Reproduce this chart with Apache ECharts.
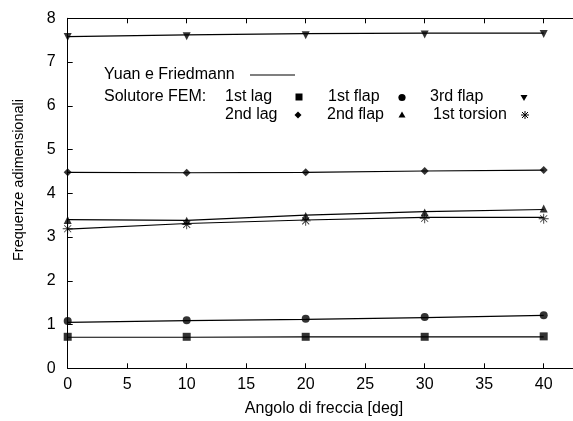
<!DOCTYPE html>
<html><head><meta charset="utf-8">
<script src="https://cdn.jsdelivr.net/npm/echarts@6/dist/echarts.min.js"></script>
<style>html,body{margin:0;padding:0;background:#fff}#c{width:573px;height:421px}</style>
</head><body><div id="c"></div>
<script>
// ---- data ----
const angles = [0, 10, 20, 30, 40];
const xTitle = 'Angolo di freccia [deg]';
const yTitle = 'Frequenze adimensionali';
const lineName = 'Yuan e Friedmann';
// Yuan e Friedmann (lines)
const yf1stLag     = [0.71, 0.71, 0.72, 0.72, 0.72];
const yf1stFlap    = [1.05, 1.09, 1.12, 1.16, 1.21];
const yf2ndFlap    = [3.40, 3.38, 3.50, 3.58, 3.63];
const yf1stTorsion = [3.18, 3.31, 3.39, 3.45, 3.45];
const yf2ndLag     = [4.48, 4.47, 4.48, 4.51, 4.53];
const yf3rdFlap    = [7.58, 7.62, 7.65, 7.66, 7.66];
// Solutore FEM (markers)
const fem1stLag     = [0.72, 0.72, 0.72, 0.72, 0.73];
const fem1stFlap    = [1.08, 1.10, 1.13, 1.17, 1.21];
const fem2ndFlap    = [3.39, 3.37, 3.48, 3.56, 3.65];
const fem1stTorsion = [3.19, 3.29, 3.37, 3.43, 3.42];
const fem2ndLag     = [4.48, 4.47, 4.48, 4.51, 4.53];
const fem3rdFlap    = [7.57, 7.59, 7.61, 7.63, 7.64];

const STAR = 'path://M-1,-0.09L1,-0.09L1,0.09L-1,0.09Z M-0.09,-1L0.09,-1L0.09,1L-0.09,1Z M-0.643,-0.757L0.757,0.643L0.643,0.757L-0.757,-0.643Z M-0.757,0.643L0.643,-0.757L0.757,-0.643L-0.643,0.757Z';

const pairs = v => angles.map((a, i) => [a, v[i]]);
const FONT = 'Liberation Sans, Arial, Helvetica, sans-serif';
const FS = 16;

function lineSeries(v) {
  return { name: lineName, type: 'line', data: pairs(v), symbol: 'none',
    lineStyle: { color: '#000', width: 1.2 }, itemStyle: { color: '#000' }, z: 2, animation: false };
}
function femSeries(name, v, symbol, size, rotate) {
  return { name, type: 'scatter', data: pairs(v), symbol, symbolSize: size, symbolRotate: rotate || 0,
    itemStyle: { color: '#000' }, z: 3, animation: false };
}

// ---- legend (drawn as graphics) ----
const g = [];
function txt(text, x, y) {
  g.push({ type: 'text', style: { text, x, y, font: FS + 'px ' + FONT, fill: '#000',
    textAlign: 'left', textVerticalAlign: 'middle', align: 'left', verticalAlign: 'middle' } });
}
txt(lineName, 104, 75);
g.push({ type: 'line', shape: { x1: 250, y1: 75, x2: 295, y2: 75 }, style: { stroke: '#000', lineWidth: 1.2 } });
txt('Solutore FEM:', 104, 97);
txt('1st lag', 225, 97);
g.push({ type: 'rect', shape: { x: 295.5, y: 93.5, width: 7, height: 7 }, style: { fill: '#000' } });
txt('1st flap', 328, 97);
g.push({ type: 'circle', shape: { cx: 402, cy: 97.5, r: 3.6 }, style: { fill: '#000' } });
txt('3rd flap', 430, 97);
g.push({ type: 'polygon', shape: { points: [[520.5, 95], [527.5, 95], [524, 101]] }, style: { fill: '#000' } });
txt('2nd lag', 225, 115);
g.push({ type: 'polygon', shape: { points: [[298, 111.5], [301.5, 115], [298, 118.5], [294.5, 115]] }, style: { fill: '#000' } });
txt('2nd flap', 327, 115);
g.push({ type: 'polygon', shape: { points: [[402, 111.5], [405.5, 117.5], [398.5, 117.5]] }, style: { fill: '#000' } });
txt('1st torsion', 433, 115);
[[[521, 115], [529, 115]], [[525, 111], [525, 119]], [[522, 112], [528, 118]], [[522, 118], [528, 112]]].forEach(p => {
  g.push({ type: 'line', shape: { x1: p[0][0], y1: p[0][1], x2: p[1][0], y2: p[1][1] }, style: { stroke: '#000', lineWidth: 1 } });
});
// axis titles
g.push({ type: 'text', style: { text: xTitle, x: 324, y: 409, font: FS + 'px ' + FONT, fill: '#000',
  textAlign: 'center', textVerticalAlign: 'middle', align: 'center', verticalAlign: 'middle' } });
g.push({ type: 'text', x: 19, y: 180, rotation: Math.PI / 2, style: { text: yTitle, x: 0, y: 0, font: '14.5px ' + FONT, fill: '#000',
  textAlign: 'center', textVerticalAlign: 'middle', align: 'center', verticalAlign: 'middle' } });

const axisCommon = {
  axisLine: { show: true, lineStyle: { color: '#000', width: 1 } },
  axisTick: { show: true, inside: true, length: 5, lineStyle: { color: '#000', width: 1 } },
  splitLine: { show: false }
};

const chart = echarts.init(document.getElementById('c'), null, { renderer: 'canvas' });
chart.setOption({
  animation: false,
  backgroundColor: '#fff',
  grid: { left: 67.7, top: 18.3, bottom: 52.7, right: -30.2, outerBoundsMode: 'none', containLabel: false },
  xAxis: [
    Object.assign({ type: 'value', min: 0, max: 45, interval: 5, position: 'bottom',
      axisLabel: { margin: 8, color: '#000', fontSize: FS, fontFamily: FONT } }, axisCommon),
    Object.assign({ type: 'value', min: 0, max: 45, interval: 5, position: 'top',
      axisLabel: { show: false } }, axisCommon)
  ],
  yAxis: [
    Object.assign({ type: 'value', min: 0, max: 8, interval: 1, position: 'left',
      axisLabel: { margin: 12, color: '#000', fontSize: FS, fontFamily: FONT } }, axisCommon)
  ],
  series: [
    lineSeries(yf1stLag), lineSeries(yf1stFlap), lineSeries(yf2ndFlap),
    lineSeries(yf1stTorsion), lineSeries(yf2ndLag), lineSeries(yf3rdFlap),
    femSeries('1st lag', fem1stLag, 'rect', 8),
    femSeries('1st flap', fem1stFlap, 'circle', 8),
    femSeries('3rd flap', fem3rdFlap, 'triangle', 8, 180),
    femSeries('2nd lag', fem2ndLag, 'diamond', 8),
    femSeries('2nd flap', fem2ndFlap, 'triangle', 8),
    femSeries('1st torsion', fem1stTorsion, STAR, 10)
  ],
  graphic: g
});
</script></body></html>
